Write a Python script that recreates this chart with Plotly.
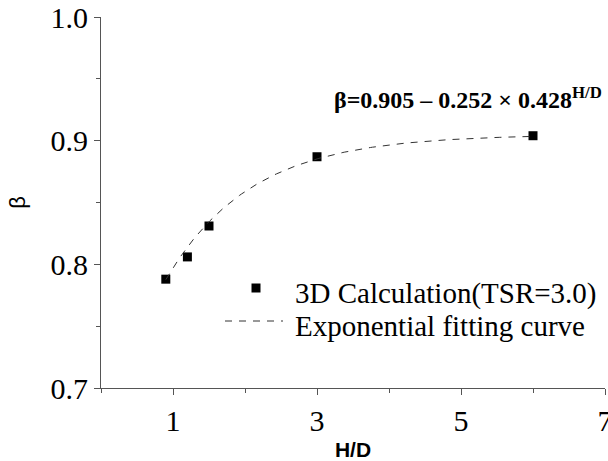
import numpy as np
import plotly.graph_objects as go

# Data
hd = [0.9, 1.2, 1.5, 3.0, 6.0]
beta = [0.788, 0.806, 0.831, 0.887, 0.904]

# Exponential fit coefficients (from the chart's equation)
fit_a, fit_b, fit_c = 0.905, 0.252, 0.428
fit_x = np.linspace(0.9, 6.0, 200)
fit_y = fit_a - fit_b * fit_c ** fit_x

x_ticks = [1, 3, 5, 7]
y_ticks = [0.7, 0.8, 0.9, 1.0]

series_names = ["3D Calculation(TSR=3.0)", "Exponential fitting curve"]

serif = "Liberation Serif"
sans = "Liberation Sans"
line_col = "#333333"
dash = "7px,7px"

fig = go.Figure()
fig.add_trace(go.Scatter(
    x=hd, y=beta, mode="markers", name=series_names[0],
    marker=dict(symbol="square", size=9, color="black"),
))
fig.add_trace(go.Scatter(
    x=fit_x, y=fit_y, mode="lines", name=series_names[1],
    line=dict(color=line_col, width=1, dash=dash),
))

# plot area in pixels: x 101..605, y 17..388
def fx(px):
    return (px - 101) / 504.0

def fy(py):
    return (388 - py) / 371.0

shapes = [
    # legend marker
    dict(type="rect", xref="paper", yref="paper",
         x0=fx(251.5), x1=fx(260.5), y0=fy(292.5), y1=fy(283.5),
         fillcolor="black", line=dict(width=0)),
    # legend dashed line
    dict(type="line", xref="paper", yref="paper",
         x0=fx(225), x1=fx(283), y0=fy(321), y1=fy(321),
         line=dict(color=line_col, width=1, dash=dash)),
]

annotations = [
    dict(x=fx(293), y=fy(293), xref="paper", yref="paper",
         xanchor="left", yanchor="middle", showarrow=False,
         text=series_names[0], font=dict(family=serif, size=29, color="black")),
    dict(x=fx(293), y=fy(326), xref="paper", yref="paper",
         xanchor="left", yanchor="middle", showarrow=False,
         text=series_names[1], font=dict(family=serif, size=29, color="black")),
    dict(x=fx(604), xref="paper", xanchor="right",
         y=fy(98), yref="paper", yanchor="middle",
         text="<b>β=0.905 – 0.252 × 0.428<sup>H/D</sup></b>",
         showarrow=False,
         font=dict(family=serif, size=24, color="black")),
]

fig.update_layout(
    width=608, height=461,
    margin=dict(l=101, r=3, t=17, b=73),
    paper_bgcolor="white", plot_bgcolor="white",
    showlegend=False,
    shapes=shapes,
    annotations=annotations,
)

fig.update_xaxes(
    range=[0, 7], tickvals=x_ticks, ticktext=[str(v) for v in x_ticks],
    showgrid=False, zeroline=False, showline=True, linecolor="#555555", linewidth=1,
    ticks="outside", ticklen=6, tickcolor="#555555", ticklabeloverflow="allow",
    automargin=False,
    minor=dict(tick0=0, dtick=1, ticks="outside", ticklen=4, tickcolor="#555555", showgrid=False),
    tickfont=dict(family=serif, size=30, color="black"),
    title=dict(text="<b>H/D</b>", font=dict(family=sans, size=21, color="black"), standoff=8),
)
fig.update_yaxes(
    range=[0.7, 1.0], tickvals=y_ticks, ticktext=["0.7", "0.8", "0.9", "1.0"],
    showgrid=False, zeroline=False, showline=True, linecolor="#555555", linewidth=1,
    ticks="outside", ticklen=6, tickcolor="#555555",
    automargin=False,
    minor=dict(tick0=0.7, dtick=0.05, ticks="outside", ticklen=4, tickcolor="#555555", showgrid=False),
    tickfont=dict(family=serif, size=30, color="black"),
    title=dict(text="β", font=dict(family=sans, size=22, color="black"), standoff=18),
)

fig.write_html("out.html")
